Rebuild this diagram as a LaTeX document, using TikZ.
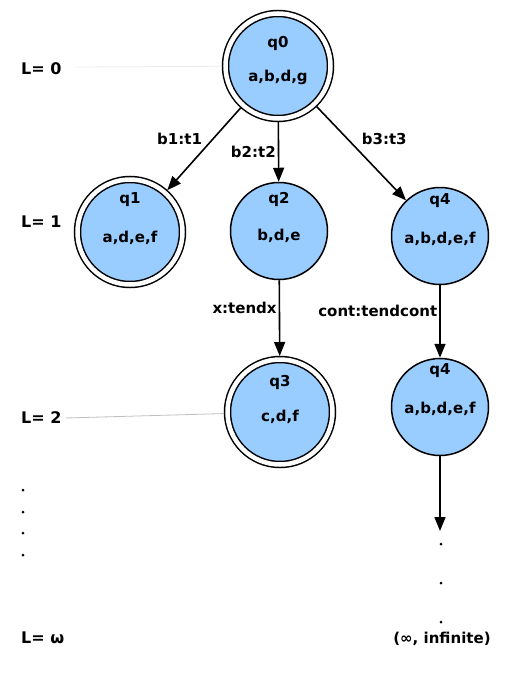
\documentclass[tikz,border=0pt]{standalone}
\usepackage{fontspec}
\setmainfont{DejaVu Sans}
\usetikzlibrary{arrows.meta, positioning}
\definecolor{statefill}{HTML}{99CCFF}

\begin{document}
\begin{tikzpicture}[
    x=1pt, y=-1pt,
    state/.style={circle, draw, fill=statefill, line width=1.5pt, minimum size=97pt, inner sep=0pt},
    accept/.style={state, double, double distance=4.5pt, minimum size=105pt, outer sep=3.5pt},
    arrow/.style={-{Triangle[length=14pt, width=11pt]}, line width=1.6pt},
    lbl/.style={font=\fontsize{15}{18}\selectfont\bfseries, inner sep=2pt},
    level/.style={anchor=west, inner sep=0pt, font=\fontsize{16}{19}\selectfont\bfseries},
    levelline/.style={line width=0.8pt}
]
    \useasboundingbox (0,0) rectangle (516,675);

    % States
    \node[accept, label={[lbl, yshift=23pt]center:q0}, label={[lbl, yshift=-11pt]center:a,b,d,g}] (q0) at (278,66) {};
    \node[accept, label={[lbl, yshift=32pt]center:q1}, label={[lbl, yshift=-6pt]center:a,d,e,f}] (q1) at (130,232) {};
    \node[state, label={[lbl, yshift=32pt]center:q2}, label={[lbl, yshift=-5pt]center:b,d,e}] (q2) at (279,231) {};
    \node[state, label={[lbl, yshift=35pt]center:q4}, label={[lbl, yshift=-3pt]center:a,b,d,e,f}] (q4) at (440,236) {};
    \node[accept, label={[lbl, yshift=30pt]center:q3}, label={[lbl, yshift=-5pt]center:c,d,f}] (q3) at (280,412) {};
    \node[state, label={[lbl, yshift=36pt]center:q4}, label={[lbl, yshift=-2pt]center:a,b,d,e,f}] (q4b) at (440,407) {};

    % Levels
    \node[level] (L0) at (21,69) {L= 0};
    \node[level] (L1) at (21,222) {L= 1};
    \node[level] (L2) at (21,418) {L= 2};
    \node[level] (Lw) at (21,638) {L= ω};
    \draw[levelline, black!8] (L0.east) ++(12,-2) coordinate (L0s) -- (q0);
    \draw[levelline, black!25] (L2.east) ++(4,0) coordinate (L2s) -- (q3);

    % Transitions
    \draw[arrow] (q0) -- (q1) node[lbl, pos=0.38, left=8pt] {b1:t1};
    \draw[arrow] (q0) -- (q2) node[lbl, pos=0.5, left] {b2:t2};
    \draw[arrow] (q0) -- (q4) node[lbl, pos=0.34, right=12pt] {b3:t3};
    \draw[arrow] (q2) -- (q3) node[lbl, pos=0.36, left] {x:tendx};
    \draw[arrow] (q4) -- (q4b) node[lbl, pos=0.36, left=0pt] {cont:tendcont};
    \coordinate (dotsend) at (440,531);
    \draw[arrow] (q4b) -- (dotsend);

    % Dots
    \foreach \y in {490,512,533,555} \fill (23,\y) circle (1.5pt);
    \foreach \y in {544,583,622} \fill (441,\y) circle (1.5pt);
    \node[lbl] (inf) at (442,639) {(∞, infinite)};
\end{tikzpicture}
\end{document}
